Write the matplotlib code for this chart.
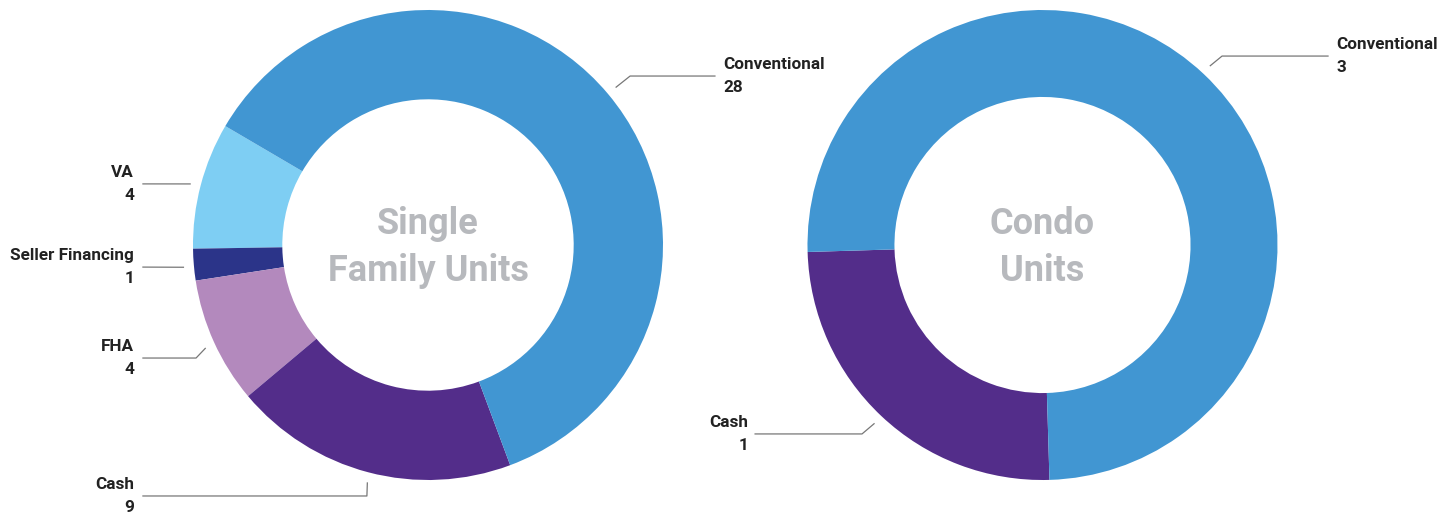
import matplotlib.pyplot as plt
import numpy as np
from matplotlib import font_manager

# data
sf_labels = ['VA', 'Seller Financing', 'FHA', 'Cash', 'Conventional']
sf_values = [4, 1, 4, 9, 28]
sf_colors = ['#7ecef3', '#2b3489', '#b389bd', '#532d8a', '#4196d2']

condo_labels = ['Cash', 'Conventional']
condo_values = [1, 3]
condo_colors = ['#532d8a', '#4196d2']

names = {f.name for f in font_manager.fontManager.ttflist}
title_font = 'Liberation Sans Narrow' if 'Liberation Sans Narrow' in names else 'Roboto'

W, H = 1453, 514
fig = plt.figure(figsize=(W / 100, H / 100), dpi=100)

R = 235  # pie radius in pixels


def make_ax(cx, cy):
    ax = fig.add_axes([(cx - R) / W, (H - cy - R) / H, 2 * R / W, 2 * R / H])
    return ax


def fix_ax(ax):
    ax.set_xlim(-1, 1)
    ax.set_ylim(-1, 1)
    ax.axis('off')


def label(ax, text, anchor_deg, pts, tx, ha):
    a = np.deg2rad(anchor_deg)
    xs = [1.045 * np.cos(a)] + [p[0] for p in pts]
    ys = [1.045 * np.sin(a)] + [p[1] for p in pts]
    ax.plot(xs, ys, color='#777777', lw=0.9, clip_on=False)
    ax.text(tx, ys[-1], text, ha=ha, va='center', fontsize=12.3, fontweight='bold',
            family='Roboto', color='#222222', linespacing=1.65, clip_on=False)


# single family
ax1 = make_ax(428, 245)
ax1.pie(sf_values, colors=sf_colors, startangle=149.6, counterclock=True,
        radius=1, wedgeprops=dict(width=0.38, linewidth=0))
fix_ax(ax1)
ax1.text(0, -0.01, 'Single\nFamily Units', ha='center', va='center', fontsize=26,
         fontweight='bold', family=title_font, color='#b7b9bd', linespacing=1.4)

v = dict(zip(sf_labels, sf_values))
label(ax1, f"Conventional\n{v['Conventional']}", 40, [(0.86, 0.719), (1.221, 0.719)], 1.255, 'left')
label(ax1, f"VA\n{v['VA']}", 165.6, [(-1.213, 0.26)], -1.251, 'right')
label(ax1, f"Seller Financing\n{v['Seller Financing']}", 185.2, [(-1.213, -0.094)], -1.251, 'right')
label(ax1, f"FHA\n{v['FHA']}", 204.9, [(-0.987, -0.481), (-1.213, -0.481)], -1.251, 'right')
label(ax1, f"Cash\n{v['Cash']}", 255.7, [(-0.26, -1.068), (-1.213, -1.068)], -1.251, 'right')

# condo
ax2 = make_ax(1042.5, 245)
ax2.pie(condo_values, colors=condo_colors, startangle=181.7, counterclock=True,
        radius=1, wedgeprops=dict(width=0.37, linewidth=0))
fix_ax(ax2)
ax2.text(0, -0.01, 'Condo\nUnits', ha='center', va='center', fontsize=26,
         fontweight='bold', family=title_font, color='#b7b9bd', linespacing=1.4)

c = dict(zip(condo_labels, condo_values))
label(ax2, f"Conventional\n{c['Conventional']}", 46.9, [(0.764, 0.804), (1.215, 0.804)], 1.249, 'left')
label(ax2, f"Cash\n{c['Cash']}", 226.7, [(-0.768, -0.804), (-1.223, -0.804)], -1.251, 'right')

fig.savefig('out.png', dpi=100)
